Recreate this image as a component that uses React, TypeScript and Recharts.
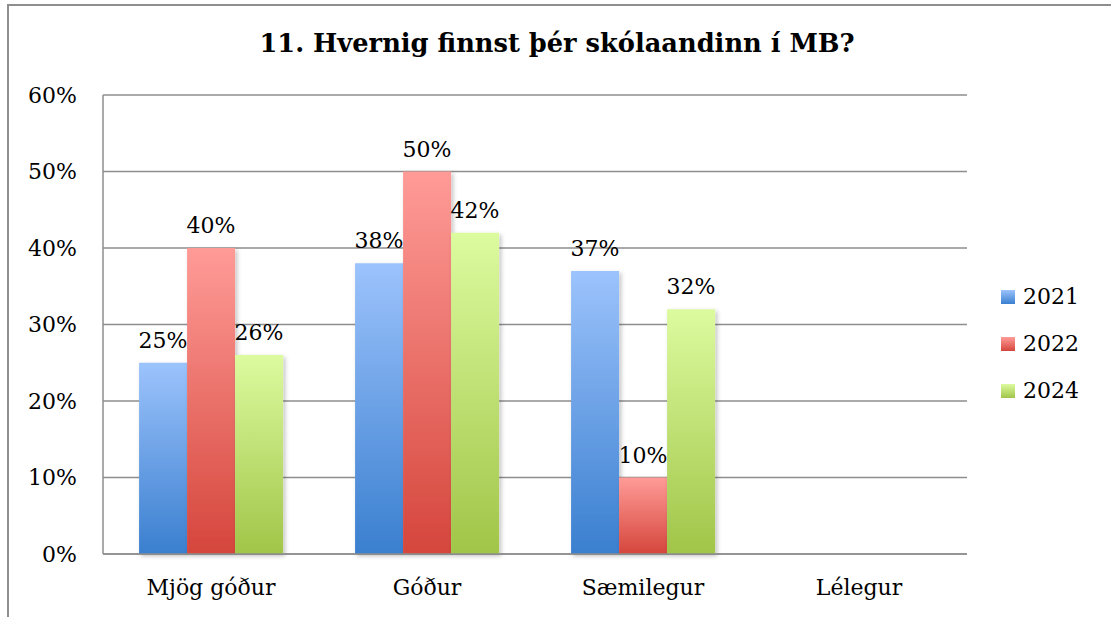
import React from "react";
import { BarChart, Bar, XAxis, YAxis, CartesianGrid, LabelList, Legend } from "recharts";

const categories = ["Mjög góður", "Góður", "Sæmilegur", "Lélegur"];
const values2021: (number | null)[] = [25, 38, 37, null];
const values2022: (number | null)[] = [40, 50, 10, null];
const values2024: (number | null)[] = [26, 42, 32, null];
const yTicks = [0, 10, 20, 30, 40, 50, 60];
const title = "11. Hvernig finnst þér skólaandinn í MB?";

const seriesList = [
  { key: "y2021", name: "2021", top: "#9cc3fc", bottom: "#3a7fcf" },
  { key: "y2022", name: "2022", top: "#ff9b97", bottom: "#d5463c" },
  { key: "y2024", name: "2024", top: "#dcfb9f", bottom: "#a0c548" },
];

const data = categories.map((c, i) => ({
  cat: c,
  y2021: values2021[i],
  y2022: values2022[i],
  y2024: values2024[i],
}));

const FONT = "'DejaVu Serif', serif";
const GRID = "#8e8e8e";

const LegendContent = () => (
  <div style={{ fontFamily: FONT, fontSize: 22, color: "#000" }}>
    {seriesList.map((s) => (
      <div key={s.key} style={{ display: "flex", alignItems: "center", height: 47 }}>
        <div
          style={{
            width: 14,
            height: 14,
            background: `linear-gradient(${s.top}, ${s.bottom})`,
            marginRight: 8,
          }}
        />
        <span>{s.name}</span>
      </div>
    ))}
  </div>
);

export default function App() {
  return (
    <div
      style={{
        position: "fixed",
        left: 0,
        top: 0,
        width: 1111,
        height: 617,
        overflow: "hidden",
        background: "#fff",
      }}
    >
      <div
        style={{
          position: "absolute",
          left: 7,
          top: 4,
          width: 1200,
          height: 700,
          border: `2px solid ${GRID}`,
        }}
      />
      <div
        style={{
          position: "absolute",
          left: 0,
          top: 26,
          width: 1114,
          textAlign: "center",
          fontFamily: FONT,
          fontWeight: "bold",
          fontSize: 25.7,
          lineHeight: "34px",
          color: "#000",
        }}
      >
        {title}
      </div>
      <div style={{ position: "absolute", left: 0, top: 0 }}>
        <BarChart
          width={1111}
          height={617}
          data={data}
          margin={{ top: 95, right: 144, bottom: 33, left: 0 }}
          barCategoryGap="16.7%"
          barGap={0}
        >
          <defs>
            {seriesList.map((s) => (
              <linearGradient key={s.key} id={`grad-${s.key}`} x1="0" y1="0" x2="0" y2="1">
                <stop offset="0%" stopColor={s.top} />
                <stop offset="100%" stopColor={s.bottom} />
              </linearGradient>
            ))}
            <filter id="barShadow" x="-20%" y="-10%" width="150%" height="130%">
              <feDropShadow dx="2" dy="2" stdDeviation="2" floodColor="#000" floodOpacity="0.25" />
            </filter>
          </defs>
          <CartesianGrid vertical={false} stroke={GRID} strokeWidth={1.5} />
          <XAxis
            dataKey="cat"
            height={30}
            tickLine={false}
            tickSize={0}
            tickMargin={25}
            axisLine={{ stroke: GRID, strokeWidth: 1.5 }}
            tick={{ fontFamily: FONT, fontSize: 22, fill: "#000" }}
          />
          <YAxis
            width={103}
            domain={[0, 60]}
            ticks={yTicks}
            tickFormatter={(v: number) => `${v}%`}
            tickLine={false}
            tickSize={0}
            tickMargin={26}
            axisLine={{ stroke: GRID, strokeWidth: 1.5 }}
            tick={{ fontFamily: FONT, fontSize: 22, fill: "#000" }}
          />
          <Legend
            layout="vertical"
            align="center"
            verticalAlign="middle"
            wrapperStyle={{ left: 1001, top: 273, width: 110 }}
            content={<LegendContent />}
          />
          {seriesList.map((s) => (
            <Bar
              key={s.key}
              dataKey={s.key}
              name={s.name}
              fill={`url(#grad-${s.key})`}
              isAnimationActive={false}
              style={{ filter: "url(#barShadow)" }}
            >
              <LabelList
                dataKey={s.key}
                position="top"
                offset={15}
                formatter={(v: any) => (v === null || v === undefined ? "" : `${v}%`)}
                style={{ fontFamily: FONT, fontSize: 22, fill: "#000" }}
              />
            </Bar>
          ))}
        </BarChart>
      </div>
    </div>
  );
}
